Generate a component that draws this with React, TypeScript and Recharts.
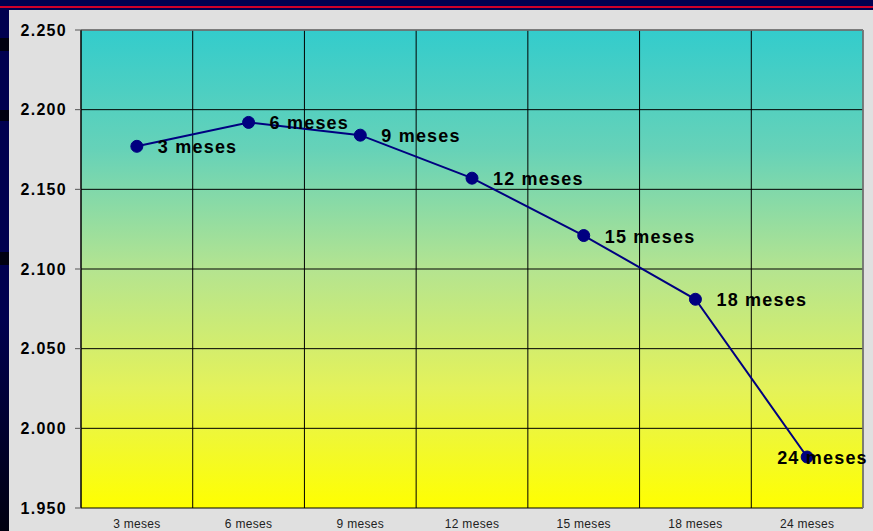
import {
  LineChart,
  Line,
  XAxis,
  YAxis,
  CartesianGrid,
  ReferenceLine,
  LabelList,
} from "recharts";

const categories = ["3 meses", "6 meses", "9 meses", "12 meses", "15 meses", "18 meses", "24 meses"];
const values = [2.177, 2.192, 2.184, 2.157, 2.121, 2.081, 1.982];
const yTicks = [1.95, 2.0, 2.05, 2.1, 2.15, 2.2, 2.25];
const boundaryTicks = [0, 1, 2, 3, 4, 5, 6, 7];
const centerTicks = categories.map((_, i) => i + 0.5);

const data = categories.map((name, i) => ({ name, pos: i + 0.5, value: values[i] }));

const FONT = "'Liberation Sans', Arial, sans-serif";

function PointLabel(props: any) {
  const { x, y, index } = props;
  const last = index === categories.length - 1;
  return (
    <text
      x={x + (last ? -30 : 21)}
      y={y + 1}
      dominantBaseline="central"
      fontFamily={FONT}
      fontSize={18}
      fontWeight="bold"
      letterSpacing={1.2}
      fill="#000"
    >
      {categories[index]}
    </text>
  );
}

export default function App() {
  return (
    <div
      style={{
        position: "fixed",
        left: 0,
        top: 0,
        width: 873,
        height: 531,
        background: "linear-gradient(#000050 0%, #000050 60%, #000010 100%)",
        overflow: "hidden",
      }}
    >
      <div style={{ position: "absolute", left: 0, top: 6, width: 873, height: 2, background: "#d0002a" }} />
      <div style={{ position: "absolute", left: 0, top: 38, width: 9, height: 13, background: "#000010" }} />
      <div style={{ position: "absolute", left: 0, top: 110, width: 9, height: 11, background: "#000010" }} />
      <div style={{ position: "absolute", left: 0, top: 252, width: 9, height: 13, background: "#000010" }} />
      <div style={{ position: "absolute", left: 9, top: 10, right: 0, bottom: 0, background: "#e0e0e0" }} />
      <div style={{ position: "absolute", left: 0, top: 0 }}>
        <LineChart
          width={873}
          height={531}
          data={data}
          margin={{ top: 30, right: 10, bottom: 0, left: 0 }}
        >
          <defs>
            <linearGradient id="plotBg" x1="0" y1="0" x2="0" y2="1">
              <stop offset="0%" stopColor="#33cccc" />
              <stop offset="25%" stopColor="#66d2b8" />
              <stop offset="50%" stopColor="#b4e490" />
              <stop offset="75%" stopColor="#e4f25a" />
              <stop offset="100%" stopColor="#ffff00" />
            </linearGradient>
          </defs>
          <CartesianGrid
            xAxisId="grid"
            fill="url(#plotBg)"
            fillOpacity={1}
            stroke="#000"
            strokeWidth={1}
          />
          <XAxis
            xAxisId="grid"
            type="number"
            dataKey="pos"
            domain={[0, 7]}
            ticks={boundaryTicks}
            tickFormatter={() => ""}
            tickSize={5}
            height={0}
            axisLine={{ stroke: "#000" }}
            tickLine={{ stroke: "#000" }}
            allowDataOverflow
          />
          <XAxis
            xAxisId="cat"
            type="number"
            dataKey="pos"
            domain={[0, 7]}
            ticks={centerTicks}
            tickFormatter={(v: number) => categories[Math.floor(v)]}
            axisLine={false}
            tickLine={false}
            tickMargin={5}
            height={23}
            tick={{ fill: "#222", fontSize: 12, fontFamily: FONT, letterSpacing: 0.3 }}
            interval={0}
          />
          <YAxis
            type="number"
            domain={[1.95, 2.25]}
            ticks={yTicks}
            interval={0}
            width={81}
            tickSize={6}
            tickMargin={8}
            tickFormatter={(v: number) => v.toFixed(3)}
            axisLine={{ stroke: "#000" }}
            tickLine={{ stroke: "#555" }}
            tick={{ fill: "#000", fontSize: 16, fontWeight: "bold", fontFamily: FONT, letterSpacing: 1.3 }}
            allowDataOverflow
          />
          <ReferenceLine xAxisId="grid" y={2.25} stroke="#808080" strokeWidth={1.5} />
          <ReferenceLine xAxisId="grid" x={7} stroke="#808080" strokeWidth={1.5} />
          <Line
            xAxisId="cat"
            dataKey="value"
            type="linear"
            stroke="#000080"
            strokeWidth={2}
            dot={{ r: 6, fill: "#000080", stroke: "#000080", strokeWidth: 1 }}
            activeDot={false}
            isAnimationActive={false}
          >
            <LabelList dataKey="value" content={<PointLabel />} />
          </Line>
        </LineChart>
      </div>
    </div>
  );
}
